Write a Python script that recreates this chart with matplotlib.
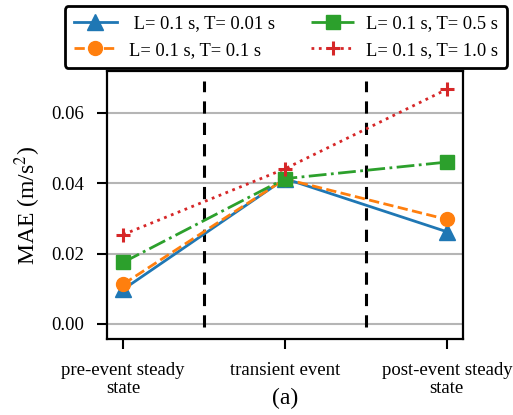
import numpy as np
import matplotlib
matplotlib.use("Agg")
import matplotlib.pyplot as plt

plt.rcParams['font.family'] = ['Liberation Serif', 'DejaVu Serif']
plt.rcParams['mathtext.fontset'] = 'stix'

# data
categories = ["pre-event steady\nstate", "transient event", "post-event steady\nstate"]
labels = [" L= 0.1 s, T= 0.01 s", "L= 0.1 s, T= 0.1 s",
          "L= 0.1 s, T= 0.5 s", "L= 0.1 s, T= 1.0 s"]
mae_t001 = [0.0098, 0.0413, 0.0262]
mae_t01 = [0.0113, 0.0412, 0.0297]
mae_t05 = [0.0175, 0.0413, 0.0460]
mae_t10 = [0.0254, 0.0441, 0.0667]
boundaries = [0.5, 1.5]

series = [mae_t001, mae_t01, mae_t05, mae_t10]
colors = ["#1f77b4", "#ff7f0e", "#2ca02c", "#d62728"]
styles = ["-", "--", "-.", ":"]
markers = ["^", "o", "s", "+"]
sizes = [11, 10, 10, 10]

fig = plt.figure(figsize=(5.13, 4.15), dpi=100)
ax = fig.add_axes([0.2086, 0.183, 0.694, 0.646])

x = np.arange(len(categories))
for vals, c, ls, m, ms, lab in zip(series, colors, styles, markers, sizes, labels):
    mew = 2.2 if m == "+" else 1
    ax.plot(x, vals, linestyle=ls, marker=m, color=c, lw=2, ms=ms,
            mew=mew, label=lab, zorder=3)

for b in boundaries:
    ax.vlines(b, -0.001, 0.069, colors="k", linestyles=(0, (4, 3)), lw=2.2, zorder=2)

ax.set_xlim(-0.1, 2.1)
ax.set_ylim(-0.0043, 0.0719)
ax.set_yticks([0.0, 0.02, 0.04, 0.06])
ax.set_xticks(x)
ax.set_xticklabels(categories, fontsize=13.5, linespacing=1.05)
ax.tick_params(axis='y', labelsize=13.5)
ax.tick_params(width=1.5, length=7.5, pad=9)
ax.yaxis.grid(True, color="#b5b5b5", lw=1.5, zorder=0)
ax.set_axisbelow(True)
for s in ax.spines.values():
    s.set_linewidth(1.6)
ax.set_ylabel("MAE (m/s$^2$)", fontsize=17, labelpad=6)

leg = ax.legend(loc="lower center", bbox_to_anchor=(0.5575, 0.836),
                bbox_transform=fig.transFigure, ncol=2, fontsize=13.3,
                frameon=True, fancybox=True, edgecolor="k",
                columnspacing=2.0, handlelength=2.3, handletextpad=0.65,
                borderpad=0.5, labelspacing=0.5, borderaxespad=0)
leg.get_frame().set_linewidth(2)
leg.get_frame().set_alpha(1)

fig.text(0.556, 0.04, "(a)", ha="center", va="center", fontsize=17)

fig.savefig("out.png", dpi=100)
